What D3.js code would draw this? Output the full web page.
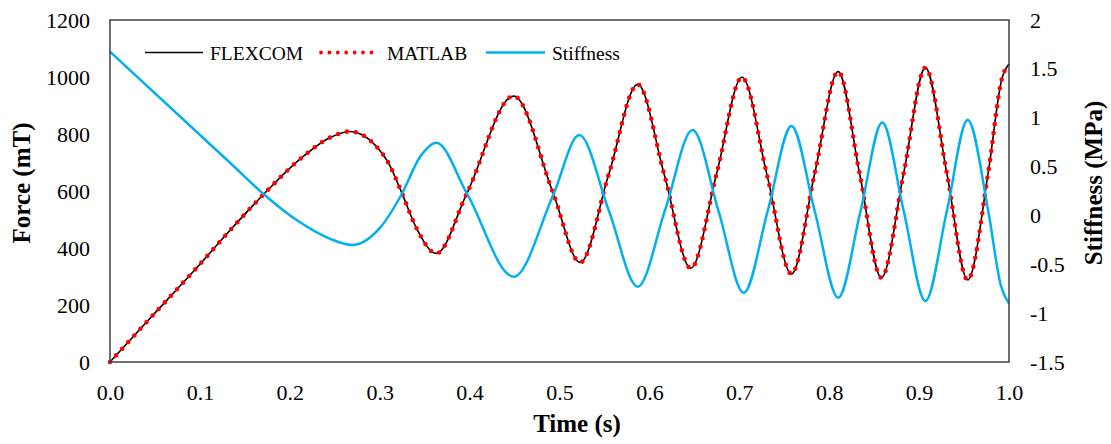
<!DOCTYPE html>
<html>
<head>
<meta charset="utf-8">
<script src="https://cdn.jsdelivr.net/npm/d3@7"></script>
<style>
  html, body { margin: 0; padding: 0; background: #fff; }
  svg { display: block; }
  text { font-family: "Liberation Serif", "Times New Roman", serif; fill: #000; }
</style>
</head>
<body>
<svg id="chart" width="1111" height="444"></svg>
<script>
// ---- data ----
const timeForce = [0, 0.043, 0.102, 0.1335, 0.172, 0.211, 0.245, 0.267, 0.293, 0.311, 0.324, 0.341, 0.363, 0.397, 0.449, 0.493, 0.523, 0.555, 0.587, 0.617, 0.646, 0.675, 0.703, 0.731, 0.758, 0.784, 0.810, 0.834, 0.858, 0.883, 0.907, 0.931, 0.954, 0.977, 0.992, 1.0];
const flexcomForce = [0, 148, 350, 462, 592, 711, 788, 809, 767, 691, 598, 469, 381, 592, 933, 592, 349, 661, 974, 652, 329, 664, 999, 654, 309, 664, 1019, 658, 296, 665, 1033, 660, 288, 667, 993, 1046];
const matlabForce  = [0, 148, 350, 462, 592, 711, 788, 809, 767, 691, 598, 469, 381, 592, 933, 592, 349, 661, 974, 652, 329, 664, 999, 654, 309, 664, 1019, 658, 296, 665, 1033, 660, 288, 667, 993, 1046];

const timeStiff = [0, 0.1335, 0.172, 0.208, 0.245, 0.269, 0.300, 0.324, 0.345, 0.363, 0.397, 0.449, 0.493, 0.522, 0.555, 0.587, 0.618, 0.648, 0.677, 0.705, 0.732, 0.758, 0.784, 0.810, 0.835, 0.859, 0.883, 0.907, 0.931, 0.954, 0.977, 0.991, 1.0];
const stiffness = [1.676, 0.539, 0.209, -0.05, -0.24, -0.303, -0.13, 0.209, 0.60, 0.744, 0.226, -0.627, 0.209, 0.823, 0.046, -0.730, 0.072, 0.874, 0.042, -0.791, 0.06, 0.915, 0.04, -0.842, 0.05, 0.950, 0.04, -0.876, 0.05, 0.977, 0.04, -0.72, -0.903];

const xTicks = [0, 0.1, 0.2, 0.3, 0.4, 0.5, 0.6, 0.7, 0.8, 0.9, 1.0];
const yLeftTicks = [0, 200, 400, 600, 800, 1000, 1200];
const yRightTicks = [-1.5, -1, -0.5, 0, 0.5, 1, 1.5, 2];
const seriesNames = ["FLEXCOM", "MATLAB", "Stiffness"];

// ---- layout ----
const W = 1111, H = 444;
const margin = { left: 110, right: 102, top: 20, bottom: 82 };
const x0 = margin.left, x1 = W - margin.right, y0 = H - margin.bottom, y1 = margin.top;

const svg = d3.select("#chart");

const x = d3.scaleLinear().domain([0, 1]).range([x0, x1]);
const yL = d3.scaleLinear().domain([0, 1200]).range([y0, y1]);
const yR = d3.scaleLinear().domain([-1.5, 2]).range([y0, y1]);

// axes (labels only, no tick marks)
const gx = svg.append("g").attr("transform", `translate(0,${y0})`)
  .call(d3.axisBottom(x).tickValues(xTicks).tickFormat(d3.format(".1f")).tickSize(0).tickPadding(22));
const gyl = svg.append("g").attr("transform", `translate(${x0},0)`)
  .call(d3.axisLeft(yL).tickValues(yLeftTicks).tickFormat(d3.format("d")).tickSize(0).tickPadding(20));
const gyr = svg.append("g").attr("transform", `translate(${x1},0)`)
  .call(d3.axisRight(yR).tickValues(yRightTicks).tickFormat(d => String(d)).tickSize(0).tickPadding(21));
[gx, gyl, gyr].forEach(g => {
  g.select(".domain").remove();
  g.selectAll("text").attr("font-family", "Liberation Serif, serif").attr("font-size", 22).attr("fill", "#000");
});

// series
const lineF = d3.line().x((d, i) => x(timeForce[i])).y(d => yL(d)).curve(d3.curveMonotoneX);
const lineS = d3.line().x((d, i) => x(timeStiff[i])).y(d => yR(d)).curve(d3.curveMonotoneX);

svg.append("path").datum(flexcomForce).attr("d", lineF)
  .attr("fill", "none").attr("stroke", "#000").attr("stroke-width", 1.6);
svg.append("path").datum(matlabForce).attr("d", lineF)
  .attr("fill", "none").attr("stroke", "#FF0000").attr("stroke-width", 4.6)
  .attr("stroke-linecap", "round").attr("stroke-dasharray", "0 9");
svg.append("path").datum(stiffness).attr("d", lineS)
  .attr("fill", "none").attr("stroke", "#00B0F0").attr("stroke-width", 2.5);

// frame
svg.append("rect").attr("x", x0).attr("y", y1).attr("width", x1 - x0).attr("height", y0 - y1)
  .attr("fill", "none").attr("stroke", "#404040").attr("stroke-width", 1.5);

// axis titles
svg.append("text").attr("x", 577).attr("y", 432).attr("text-anchor", "middle")
  .attr("font-size", 25).attr("font-weight", "bold").text("Time (s)");
svg.append("text").attr("transform", "translate(30,183) rotate(-90)").attr("text-anchor", "middle")
  .attr("font-size", 25).attr("font-weight", "bold").text("Force (mT)");
svg.append("text").attr("transform", "translate(1102,183) rotate(-90)").attr("text-anchor", "middle")
  .attr("font-size", 25).attr("font-weight", "bold").text("Stiffness (MPa)");

// legend
const legY = 52.5;
const leg = svg.append("g");
const legItems = [
  { name: seriesNames[0], x: 145, w: 58, tx: 210 },
  { name: seriesNames[1], x: 321, w: 51, tx: 387 },
  { name: seriesNames[2], x: 486, w: 59, tx: 552 }
];
leg.append("line").attr("x1", legItems[0].x).attr("x2", legItems[0].x + legItems[0].w)
  .attr("y1", legY).attr("y2", legY).attr("stroke", "#000").attr("stroke-width", 1.6);
leg.append("line").attr("x1", legItems[1].x).attr("x2", legItems[1].x + legItems[1].w)
  .attr("y1", legY).attr("y2", legY).attr("stroke", "#FF0000").attr("stroke-width", 3.8)
  .attr("stroke-linecap", "round").attr("stroke-dasharray", "0 8.4");
leg.append("line").attr("x1", legItems[2].x).attr("x2", legItems[2].x + legItems[2].w)
  .attr("y1", legY).attr("y2", legY).attr("stroke", "#00B0F0").attr("stroke-width", 2.5);
legItems.forEach(it => {
  leg.append("text").attr("x", it.tx).attr("y", legY + 7).attr("font-size", 19.5).text(it.name);
});
</script>
</body>
</html>
